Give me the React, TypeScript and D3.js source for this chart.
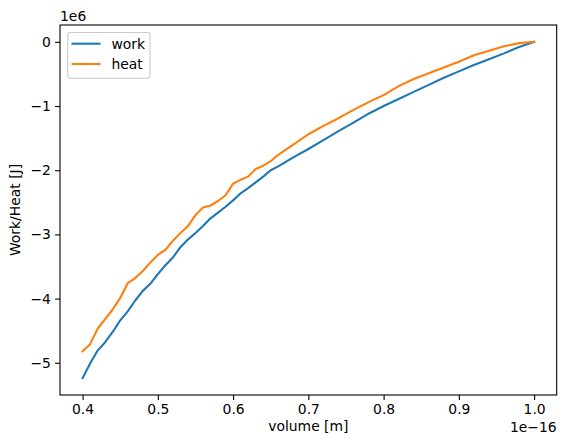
import { useEffect, useRef } from "react";
import * as d3 from "d3";

// volume in units of 1e-16 m, energy in units of 1e6 J
const volume = [
  0.4, 0.41, 0.42, 0.43, 0.44, 0.45, 0.46, 0.47, 0.48, 0.49, 0.5, 0.51, 0.52, 0.53, 0.54, 0.55, 0.56, 0.57,
  0.58, 0.59, 0.6, 0.61, 0.62, 0.63, 0.64, 0.65, 0.66, 0.67, 0.68, 0.7, 0.72, 0.74, 0.76, 0.78, 0.8, 0.82,
  0.84, 0.86, 0.88, 0.9, 0.92, 0.94, 0.96, 0.98, 1.0,
];
const work = [
  -5.24, -5.01, -4.81, -4.68, -4.52, -4.34, -4.2, -4.03, -3.88, -3.77, -3.62, -3.48, -3.36, -3.2, -3.08,
  -2.98, -2.87, -2.75, -2.66, -2.57, -2.47, -2.36, -2.28, -2.19, -2.1, -2.0, -1.94, -1.87, -1.8, -1.67,
  -1.53, -1.39, -1.26, -1.12, -1.0, -0.89, -0.78, -0.67, -0.56, -0.46, -0.36, -0.27, -0.18, -0.08, 0,
];
const heat = [
  -4.82, -4.71, -4.47, -4.32, -4.17, -3.99, -3.76, -3.68, -3.57, -3.44, -3.32, -3.24, -3.1, -2.98, -2.87,
  -2.7, -2.58, -2.55, -2.48, -2.39, -2.21, -2.15, -2.1, -1.98, -1.93, -1.86, -1.76, -1.68, -1.6, -1.44,
  -1.31, -1.19, -1.06, -0.94, -0.83, -0.69, -0.58, -0.49, -0.4, -0.31, -0.21, -0.14, -0.07, -0.02, 0,
];
const xTicks = [0.4, 0.5, 0.6, 0.7, 0.8, 0.9, 1.0];
const yTicks = [0, -1, -2, -3, -4, -5];

const seriesNames = ["work", "heat"];
const colors = ["#1f77b4", "#ff7f0e"];

const W = 565;
const H = 448;
const left = 60;
const right = 556.7;
const top = 25;
const bottom = 395;
const font = "DejaVu Sans, sans-serif";

const App = () => {
  const ref = useRef<SVGSVGElement>(null!);

  useEffect(() => {
    const svg = d3.select(ref.current);
    svg.selectAll("*").remove();

    const xPad = (d3.max(volume)! - d3.min(volume)!) * 0.05;
    const allY = [...work, ...heat];
    const yPad = (d3.max(allY)! - d3.min(allY)!) * 0.05;

    const x = d3
      .scaleLinear()
      .domain([d3.min(volume)! - xPad, d3.max(volume)! + xPad])
      .range([left, right]);
    const y = d3
      .scaleLinear()
      .domain([d3.min(allY)! - yPad, d3.max(allY)! + yPad])
      .range([bottom, top]);

    svg.append("rect").attr("width", W).attr("height", H).attr("fill", "#fff");

    const fmt = (v: number) => (v < 0 ? "\u2212" + Math.abs(v) : String(v));

    // x axis
    const xg = svg.append("g").attr("transform", `translate(0,${bottom})`);
    xg.call(
      d3
        .axisBottom(x)
        .tickValues(xTicks)
        .tickSize(4.9)
        .tickPadding(4.2)
        .tickFormat((d) => (d as number).toFixed(1))
    );
    xg.select(".domain").remove();
    xg.selectAll("text").attr("font-size", 13.9).attr("font-family", font).attr("fill", "#000");
    xg.selectAll("line").attr("stroke", "#000").attr("stroke-width", 1.1);

    // y axis
    const yg = svg.append("g").attr("transform", `translate(${left},0)`);
    yg.call(
      d3
        .axisLeft(y)
        .tickValues(yTicks)
        .tickSize(4.9)
        .tickPadding(4.2)
        .tickFormat((d) => fmt(d as number))
    );
    yg.select(".domain").remove();
    yg.selectAll("text").attr("font-size", 13.9).attr("font-family", font).attr("fill", "#000");
    yg.selectAll("line").attr("stroke", "#000").attr("stroke-width", 1.1);

    // lines
    const line = d3
      .line<number>()
      .x((_, i) => x(volume[i]))
      .y((d) => y(d));

    [work, heat].forEach((s, i) => {
      svg
        .append("path")
        .datum(s)
        .attr("d", line)
        .attr("fill", "none")
        .attr("stroke", colors[i])
        .attr("stroke-width", 2.1)
        .attr("stroke-linejoin", "round")
        .attr("stroke-linecap", "square");
    });

    // frame
    svg
      .append("rect")
      .attr("x", left)
      .attr("y", top)
      .attr("width", right - left)
      .attr("height", bottom - top)
      .attr("fill", "none")
      .attr("stroke", "#000")
      .attr("stroke-width", 1.1);

    // offset texts
    svg
      .append("text")
      .attr("x", left)
      .attr("y", 21)
      .attr("font-size", 13.9)
      .attr("font-family", font)
      .text("1e6");
    svg
      .append("text")
      .attr("x", right)
      .attr("y", 432)
      .attr("text-anchor", "end")
      .attr("font-size", 13.9)
      .attr("font-family", font)
      .text("1e\u221216");

    // axis labels
    svg
      .append("text")
      .attr("x", (left + right) / 2)
      .attr("y", 431)
      .attr("text-anchor", "middle")
      .attr("font-size", 13.9)
      .attr("font-family", font)
      .text("volume [m]");
    svg
      .append("text")
      .attr("transform", `translate(20,${(top + bottom) / 2}) rotate(-90)`)
      .attr("text-anchor", "middle")
      .attr("font-size", 13.9)
      .attr("font-family", font)
      .text("Work/Heat [J]");

    // legend
    const lg = svg.append("g");
    lg.append("rect")
      .attr("x", 67.7)
      .attr("y", 32.5)
      .attr("width", 82.3)
      .attr("height", 45.7)
      .attr("rx", 2.8)
      .attr("fill", "#fff")
      .attr("fill-opacity", 0.8)
      .attr("stroke", "#ccc")
      .attr("stroke-width", 1.1);
    seriesNames.forEach((name, i) => {
      const cy = 43.7 + i * 20.3;
      lg.append("line")
        .attr("x1", 71.5)
        .attr("x2", 100.5)
        .attr("y1", cy)
        .attr("y2", cy)
        .attr("stroke", colors[i])
        .attr("stroke-width", 2.1);
      lg.append("text")
        .attr("x", 111.5)
        .attr("y", cy + 4.9)
        .attr("font-size", 13.9)
        .attr("font-family", font)
        .text(name);
    });
  }, []);

  return <svg ref={ref} width={W} height={H} style={{ position: "absolute", left: 0, top: 0 }} />;
};

export default App;
